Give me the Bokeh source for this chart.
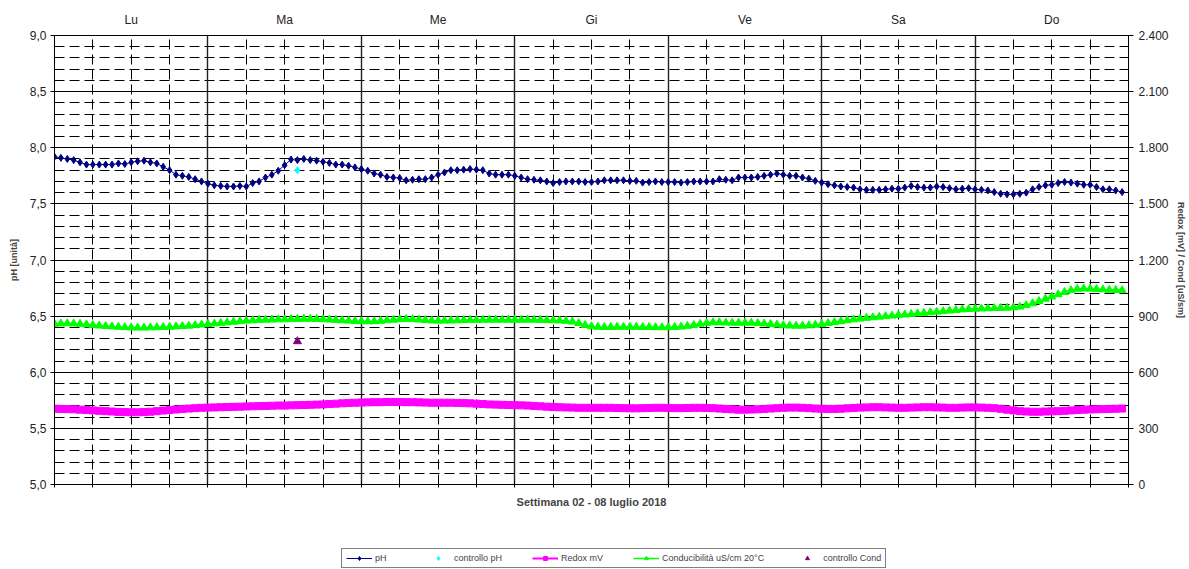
from bokeh.plotting import figure
from bokeh.layouts import column
from bokeh.models import (Range1d, LinearAxis, FixedTicker, Grid, Legend, LegendItem, CustomLabelingPolicy)
from bokeh.embed import file_html
from bokeh.resources import INLINE

days = ["Lu", "Ma", "Me", "Gi", "Ve", "Sa", "Do"]
hours = list(range(168))

ph = [7.92, 7.91, 7.90, 7.89, 7.87, 7.85, 7.85, 7.85, 7.85, 7.85, 7.86, 7.855, 7.87, 7.88, 7.885, 7.87, 7.86, 7.83, 7.80, 7.76, 7.75, 7.74, 7.72, 7.70,
      7.68, 7.665, 7.66, 7.655, 7.655, 7.66, 7.655, 7.685, 7.70, 7.735, 7.76, 7.795, 7.845, 7.895, 7.89, 7.90, 7.89, 7.885, 7.875, 7.865, 7.85, 7.85, 7.84, 7.825,
      7.81, 7.795, 7.77, 7.76, 7.74, 7.735, 7.73, 7.71, 7.715, 7.72, 7.72, 7.735, 7.76, 7.78, 7.80, 7.80, 7.805, 7.81, 7.805, 7.80, 7.77, 7.76, 7.76, 7.76,
      7.75, 7.735, 7.72, 7.715, 7.71, 7.70, 7.685, 7.695, 7.70, 7.70, 7.70, 7.695, 7.695, 7.70, 7.71, 7.71, 7.71, 7.71, 7.705, 7.705, 7.69, 7.695, 7.70, 7.695,
      7.695, 7.695, 7.69, 7.695, 7.70, 7.70, 7.70, 7.70, 7.72, 7.715, 7.71, 7.735, 7.735, 7.735, 7.74, 7.75, 7.76, 7.77, 7.76, 7.75, 7.75, 7.735, 7.725, 7.705,
      7.69, 7.675, 7.665, 7.655, 7.65, 7.645, 7.63, 7.625, 7.625, 7.625, 7.63, 7.635, 7.635, 7.645, 7.66, 7.65, 7.645, 7.645, 7.655, 7.65, 7.64, 7.63, 7.635, 7.64,
      7.63, 7.625, 7.62, 7.605, 7.59, 7.585, 7.585, 7.59, 7.60, 7.63, 7.65, 7.665, 7.67, 7.685, 7.695, 7.69, 7.68, 7.67, 7.67, 7.65, 7.63, 7.63, 7.62, 7.605]

redox = [405, 404, 403, 402, 400, 398, 396, 394, 392, 390, 388, 387, 386, 386, 387, 389, 392, 395, 398, 401, 404, 406, 408, 410,
         411, 412, 413, 414, 415, 416, 417, 418, 419, 420, 421, 422, 422, 423, 424, 425, 426, 427, 428, 430, 432, 434, 436, 437,
         438, 439, 440, 440, 441, 441, 441, 440, 440, 439, 438, 437, 437, 437, 437, 436, 435, 434, 432, 430, 428, 427, 426, 425,
         424, 423, 422, 420, 418, 416, 414, 413, 412, 411, 410, 410, 410, 410, 410, 410, 409, 408, 407, 407, 408, 409, 410, 410,
         409, 408, 408, 409, 410, 410, 409, 408, 406, 404, 402, 400, 400, 401, 402, 404, 406, 408, 410, 411, 411, 410, 408, 406,
         405, 404, 404, 405, 407, 409, 411, 412, 413, 413, 412, 411, 410, 410, 411, 412, 413, 413, 412, 411, 410, 410, 411, 412,
         412, 411, 410, 408, 405, 400, 396, 392, 390, 389, 389, 390, 391, 392, 394, 396, 398, 400, 401, 402, 403, 404, 405, 406]

cond = [858, 860, 861, 860, 858, 855, 852, 849, 846, 844, 842, 840, 839, 838, 838, 839, 840, 841, 842, 844, 846, 848, 851, 854,
        857, 860, 863, 866, 869, 872, 875, 877, 879, 880, 881, 882, 882, 883, 884, 885, 885, 884, 883, 881, 879, 877, 875, 873,
        872, 871, 872, 874, 877, 880, 883, 884, 883, 881, 878, 876, 875, 875, 876, 877, 878, 879, 879, 880, 880, 880, 880, 880,
        880, 880, 880, 880, 879, 878, 877, 876, 874, 870, 862, 852, 845, 842, 841, 841, 842, 842, 842, 842, 841, 841, 840, 840,
        840, 841, 843, 847, 852, 858, 863, 866, 866, 865, 864, 864, 864, 864, 862, 860, 857, 854, 851, 849, 848, 848, 850, 853,
        857, 862, 867, 872, 877, 882, 886, 890, 893, 896, 899, 902, 905, 908, 911, 914, 917, 920, 923, 926, 929, 932, 935, 937,
        939, 940, 941, 942, 943, 944, 946, 950, 958, 968, 980, 992, 1004, 1016, 1028, 1038, 1045, 1047, 1046, 1044, 1042, 1040, 1039, 1038]

ctrl_ph_hour = [38]
ctrl_ph = [7.80]
ctrl_cond_hour = [38]
ctrl_cond = [765]

left_ticks = [5.0, 5.5, 6.0, 6.5, 7.0, 7.5, 8.0, 8.5, 9.0]
left_labels = ["5,0", "5,5", "6,0", "6,5", "7,0", "7,5", "8,0", "8,5", "9,0"]
right_ticks = [0, 300, 600, 900, 1200, 1500, 1800, 2100, 2400]
right_labels = ["0", "300", "600", "900", "1.200", "1.500", "1.800", "2.100", "2.400"]

FONT = "Liberation Sans"

p = figure(width=1188, height=520, x_range=Range1d(0, 168), y_range=Range1d(5, 9),
           output_backend="svg", toolbar_location=None,
           min_border_left=54, min_border_right=57, min_border_top=35, min_border_bottom=36)
p.extra_y_ranges = {"r": Range1d(0, 2400)}
p.outline_line_color = "black"
p.background_fill_color = "white"
p.border_fill_color = "white"
p.xgrid.visible = False
p.ygrid.visible = False

minor_y = [round(5 + i * 0.1, 1) for i in range(41)]
minor_y_only = [v for v in minor_y if round(v * 2) != v * 2]
day_bounds = [24 * i for i in range(8)]
six_h = [6 * i for i in range(29)]
six_only = [v for v in six_h if v % 24 != 0]

# grids
p.add_layout(Grid(dimension=1, ticker=FixedTicker(ticks=minor_y_only), grid_line_color="black",
                  grid_line_dash="10 5", grid_line_width=1), "center")
p.add_layout(Grid(dimension=0, ticker=FixedTicker(ticks=six_only), grid_line_color="black",
                  grid_line_dash="10 5", grid_line_width=1), "center")
p.add_layout(Grid(dimension=1, ticker=FixedTicker(ticks=left_ticks), grid_line_color="black",
                  grid_line_width=1), "center")
p.add_layout(Grid(dimension=0, ticker=FixedTicker(ticks=day_bounds), grid_line_color="#222222",
                  grid_line_width=1.4), "center")

# left axis
ya = p.yaxis[0]
ya.ticker = FixedTicker(ticks=left_ticks, minor_ticks=minor_y)
ya.major_label_overrides = dict(zip(left_ticks, left_labels))
ya.axis_label = "pH [unità]"
ya.axis_label_text_font = FONT
ya.axis_label_text_font_style = "bold"
ya.axis_label_text_font_size = "9px"
ya.axis_label_standoff = 8
ya.major_label_text_font = FONT
ya.major_label_text_font_size = "12px"
ya.major_label_text_color = "#222222"
ya.major_tick_out = 4
ya.major_tick_in = 0
ya.minor_tick_out = 0
ya.minor_tick_in = 0
ya.major_label_standoff = 4
ya.axis_line_color = "black"

# right axis
ra = LinearAxis(y_range_name="r", ticker=FixedTicker(ticks=right_ticks, minor_ticks=list(range(0, 2401, 60))))
ra.major_label_overrides = dict(zip(right_ticks, right_labels))
ra.axis_label = "Redox [mV] / Cond [uS/sm]"
ra.axis_label_text_font = FONT
ra.axis_label_text_font_style = "bold"
ra.axis_label_text_font_size = "9px"
ra.axis_label_standoff = 4
ra.major_label_text_font = FONT
ra.major_label_text_font_size = "12px"
ra.major_label_text_color = "#222222"
ra.major_tick_out = 5
ra.major_tick_in = 0
ra.minor_tick_out = 0
ra.minor_tick_in = 3
ra.major_label_standoff = 5
ra.axis_line_color = "black"
p.add_layout(ra, "right")

# bottom axis (ticks only, no labels)
xa = p.xaxis[0]
xa.ticker = FixedTicker(ticks=six_h)
xa.major_label_policy = CustomLabelingPolicy(code="for (const i of indices) indices.unset(i); return indices")
xa.major_label_text_font_size = "1px"
xa.major_label_standoff = 0
xa.major_tick_in = 3
xa.major_tick_out = 3
xa.minor_tick_in = 0
xa.minor_tick_out = 0
xa.axis_label = "Settimana 02 - 08 luglio 2018"
xa.axis_label_text_font = FONT
xa.axis_label_text_font_style = "bold"
xa.axis_label_text_font_size = "11px"
xa.axis_label_standoff = 4
xa.axis_line_color = "black"

# top axis (day names)
ta = LinearAxis(ticker=FixedTicker(ticks=[12 + 24 * i for i in range(7)]))
ta.major_label_overrides = {12 + 24 * i: d for i, d in enumerate(days)}
ta.major_label_text_font = FONT
ta.major_label_text_font_size = "12px"
ta.major_label_text_color = "#222222"
ta.major_tick_in = 0
ta.major_tick_out = 0
ta.minor_tick_in = 0
ta.minor_tick_out = 0
ta.axis_line_color = None
ta.major_label_standoff = 9
p.add_layout(ta, "above")

# series
p.line(hours, redox, y_range_name="r", line_color="#FF00FF", line_width=5)
p.scatter(hours, redox, y_range_name="r", marker="square", size=7, fill_color="#FF00FF", line_color="#FF00FF")
p.line(hours, cond, y_range_name="r", line_color="#00FF00", line_width=1.5)
p.scatter(hours, cond, y_range_name="r", marker="triangle", size=8, fill_color="#00FF00", line_color="#00FF00")
p.line(hours, ph, line_color="#000080", line_width=1)
p.scatter(hours, ph, marker="diamond", size=7, fill_color="#000080", line_color="#000080")
p.scatter(ctrl_ph_hour, ctrl_ph, marker="diamond", size=7, fill_color="#00FFFF", line_color="#00FFFF")
p.scatter(ctrl_cond_hour, ctrl_cond, y_range_name="r", marker="triangle", size=8,
          fill_color="#800080", line_color="#800080")

# legend strip (separate figure; its renderers sit outside its visible range, only legend glyphs show)
q = figure(width=1188, height=49, x_range=Range1d(0, 1), y_range=Range1d(0, 1),
           output_backend="svg", toolbar_location=None, x_axis_location=None, y_axis_location=None,
           min_border_left=0, min_border_right=0, min_border_top=0, min_border_bottom=0)
q.outline_line_color = None
q.xgrid.visible = False
q.ygrid.visible = False
hx, hy = [-5, -4], [-5, -4]
l_ph_l = q.line(hx, hy, line_color="#000080", line_width=1)
l_ph_m = q.scatter(hx, hy, marker="diamond", size=7, fill_color="#000080", line_color="#000080")
l_cph = q.scatter(hx, hy, marker="diamond", size=6, fill_color="#00FFFF", line_color="#00FFFF")
l_red_l = q.line(hx, hy, line_color="#FF00FF", line_width=2)
l_red_m = q.scatter(hx, hy, marker="square", size=7, fill_color="#FF00FF", line_color="#FF00FF")
l_cond_l = q.line(hx, hy, line_color="#00FF00", line_width=1.5)
l_cond_m = q.scatter(hx, hy, marker="triangle", size=7, fill_color="#00FF00", line_color="#00FF00")
l_ccond = q.scatter(hx, hy, marker="triangle", size=7, fill_color="#800080", line_color="#800080")

legend = Legend(items=[
    LegendItem(label="pH", renderers=[l_ph_l, l_ph_m], index=0),
    LegendItem(label="controllo pH", renderers=[l_cph], index=0),
    LegendItem(label="Redox mV", renderers=[l_red_l, l_red_m], index=0),
    LegendItem(label="Conducibilità uS/cm 20°C", renderers=[l_cond_l, l_cond_m], index=0),
    LegendItem(label="controllo Cond", renderers=[l_ccond], index=0),
], orientation="horizontal", location=(287, 1))
legend.label_text_font = FONT
legend.label_text_font_size = "9px"
legend.glyph_width = 26
legend.glyph_height = 10
legend.spacing = 30
legend.padding = 4
legend.margin = 0
legend.border_line_color = "black"
legend.label_standoff = 3
legend.label_height = 10
q.add_layout(legend, "center")

open("out.html", "w").write(file_html(column(p, q, spacing=0), INLINE))
